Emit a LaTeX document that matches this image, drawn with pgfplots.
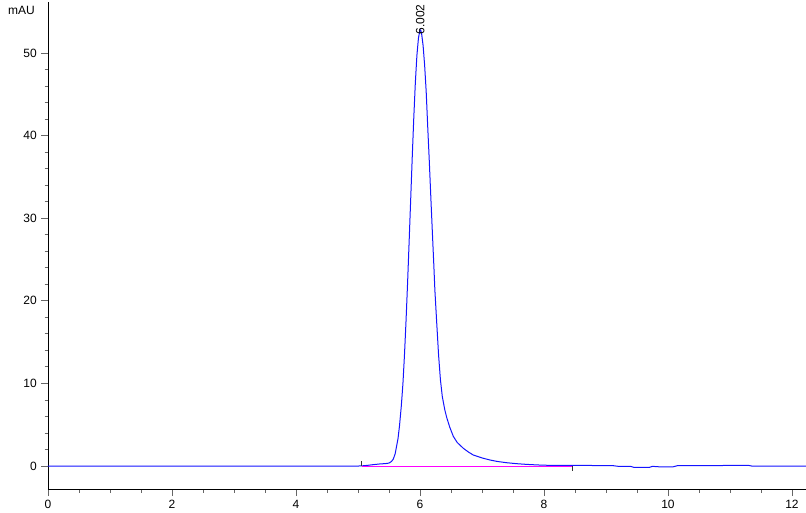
\documentclass[border=0pt]{standalone}
\usepackage{pgfplots}
\pgfplotsset{compat=1.18}
\usepackage{fontspec}
\setmainfont{Liberation Sans}
\definecolor{trace}{RGB}{20,20,255}
\definecolor{base}{RGB}{255,0,255}
\begin{document}
\fontsize{12bp}{14bp}\selectfont
\begin{tikzpicture}
\begin{axis}[
  scale only axis,
  width=758bp, height=487bp,
  xmin=0, xmax=12.226, ymin=-2.78, ymax=56.17,
  axis x line*=bottom, axis y line*=left,
  axis line style={black, line width=0.8bp, -},
  xtick={0,2,...,12}, ytick={0,10,...,50},
  minor x tick num=3, minor y tick num=4,
  tick align=outside,
  major tick length=7bp, minor tick length=3.5bp,
  every tick/.style={black!60, line width=0.8bp},
  ticklabel style={font=\fontsize{12bp}{14bp}\selectfont, text=black},
  /pgf/number format/assume math mode=true,
]
\addplot[trace, line width=1bp] coordinates {
(0,0) (5.00,0) (5.06,0.02) (5.15,0.08) (5.25,0.17) (5.35,0.25) (5.45,0.30)
(5.50,0.36) (5.54,0.55) (5.57,0.85) (5.60,1.5) (5.62,2.3) (5.645,3.3)
(5.67,4.9) (5.70,7.4) (5.725,10.0) (5.75,13.5) (5.775,17.6) (5.80,22.2)
(5.825,27.2) (5.85,32.3) (5.875,37.4) (5.90,42.2) (5.925,46.4) (5.95,49.7)
(5.975,51.8) (6.00,52.8) (6.01,52.8) (6.025,52.4) (6.05,50.9) (6.075,48.5)
(6.10,45.3) (6.125,41.0) (6.15,36.9) (6.175,32.5) (6.20,28.2) (6.225,24.0)
(6.24,21.3) (6.27,17.3) (6.30,13.4) (6.33,10.4) (6.36,8.4) (6.40,6.8)
(6.43,5.9) (6.48,4.7) (6.537,3.6) (6.60,2.85) (6.70,2.14) (6.78,1.7)
(6.86,1.33) (7.00,0.98) (7.13,0.73) (7.25,0.55) (7.40,0.40) (7.55,0.29)
(7.72,0.20) (7.90,0.13) (8.10,0.08) (8.40,0.07) (9.10,0.06) (9.2,-0.04)
(9.4,-0.05) (9.45,-0.16) (9.7,-0.16) (9.75,-0.04) (9.87,-0.1) (10.08,-0.1)
(10.15,0.04) (10.7,0.04) (11.0,0.08) (11.3,0.08) (11.35,0) (12.3,0)
};
\addplot[base, line width=1bp] coordinates {(5.06,0) (8.46,0)};
\addplot[black!80, line width=0.8bp] coordinates {(5.06,0) (5.06,0.6)};
\addplot[black!80, line width=0.8bp] coordinates {(8.46,0) (8.46,-0.6)};
\coordinate (SW) at (rel axis cs:0,0);
\coordinate (NE) at (rel axis cs:1,1);
\coordinate (NW) at (rel axis cs:0,1);
\coordinate (pk) at (axis cs:6.003,52.1);
\end{axis}
\node[rotate=90, anchor=west, inner sep=1bp, font=\fontsize{12bp}{14bp}\selectfont] at (pk) {6.002};
\node[anchor=east, inner sep=0pt, font=\fontsize{12bp}{14bp}\selectfont] at ([shift={(-13bp,-8bp)}]NW) {mAU};
\pgfresetboundingbox
\path ([shift={(-48bp,-24bp)}]SW) rectangle ([shift={(0bp,2bp)}]NE);
\end{tikzpicture}
\end{document}
